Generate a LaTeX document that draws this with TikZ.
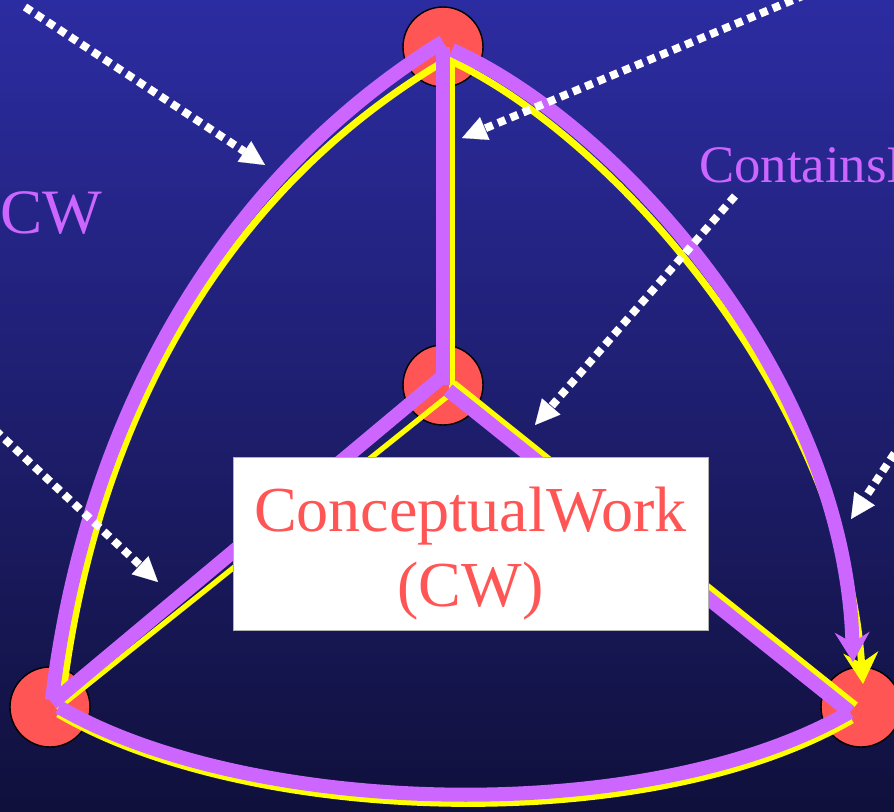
\documentclass[tikz,border=0pt]{standalone}
\usepackage{fontspec}
\setmainfont{Liberation Serif}
\usepackage{tikz}
\usetikzlibrary{arrows.meta,positioning}
\definecolor{bgTop}{RGB}{44,44,162}
\definecolor{bgBot}{RGB}{16,16,60}
\definecolor{relViolet}{HTML}{CC66FF}
\definecolor{relYellow}{HTML}{FFFF00}
\definecolor{cwRed}{HTML}{FF5555}
\tikzset{
  %% Concept dots
  cwDot/.style={circle, draw=black, line width=0.8pt, fill=cwRed,
    minimum size=1.6cm, inner sep=0pt},
  %% Concept box
  cwBox/.style={draw=gray!60, fill=white, inner sep=2pt,
    minimum width=9.5cm, minimum height=3.46cm,
    font=\fontsize{36.5}{42.7}\selectfont, align=center, text=cwRed},
  cwLbl/.style={inner sep=0pt, text=relViolet, font=\fontsize{36}{43}\selectfont},
  %% Relation strokes
  relV/.style={draw=relViolet, line width=8pt},
  relY/.style={draw=relYellow, line width=3pt},
  relVtip/.style={relV, -{Stealth[length=17pt, width=20pt, inset=6pt, line width=0.5pt]}},
  relYtip/.style={draw=relYellow, line width=4pt,
    -{Stealth[length=18pt, width=20pt, inset=6pt, line width=0.5pt]}},
  %% Pointer arrows (white dotted)
  ptr/.style={draw=white, line width=4.5pt, dash pattern=on 4.5pt off 3.2pt,
    -{Triangle[length=14pt, width=14pt, line width=0.1pt]}},
}

\begin{document}
\begin{tikzpicture}[x=0.02cm, y=-0.02cm]
\useasboundingbox (0,0) rectangle (894,812);
\begin{scope}
\clip (0,0) rectangle (894,812);
\shade[top color=bgTop, bottom color=bgBot] (0,0) rectangle (894,812);

%% Concepts
\node[cwDot] (nTop)   at (443,47)  {};
\node[cwDot] (nMid)   at (443,385) {};
\node[cwDot] (nLeft)  at (50,707)  {};
\node[cwDot] (nRight) at (861,707) {};

\coordinate (tipV) at (853,662);
\coordinate (tipY) at (863,684);

%% Yellow relations
\draw[relY] ([shift={(9,8)}]nTop.center) -- ([shift={(9,5)}]nMid.center);
\draw[relY] ([shift={(5,11)}]nMid.center) -- ([shift={(7,2)}]nLeft.center);
\draw[relY, line width=3.5pt] ([shift={(11,-2)}]nMid.center) -- ([shift={(-5,-2)}]nRight.center);
\draw[relY, line width=4pt] ([shift={(5,12)}]nTop.center)
  .. controls (225,189) and (95,421) .. ([shift={(12,-6)}]nLeft.center);
\draw[relY, line width=4pt] ([shift={(8,7)}]nLeft.center)
  .. controls (252,827) and (652,837) .. ([shift={(-9,13)}]nRight.center);
\draw[relYtip] ([shift={(6,13)}]nTop.center)
  .. controls (615,137) and (843,400) .. (tipY);

%% Violet relations
\draw[relV] (nTop.center) -- (nMid.center);
\draw[relV] ([yshift=5]nMid.center) -- ([shift={(2,-4)}]nLeft.center);
\draw[relV] ([shift={(5,5)}]nMid.center) -- ([shift={(-11,5)}]nRight.center);
\draw[relV] ([yshift=3]nTop.center)
  .. controls (220,180) and (85,420) .. ([shift={(2,-7)}]nLeft.center);
\draw[relV] ([xshift=5]nLeft.center)
  .. controls (250,818) and (650,828) .. ([shift={(-11,5)}]nRight.center);
\draw[relVtip] ([shift={(9,3)}]nTop.center)
  .. controls (620,125) and (845,380) .. (tipV);

%% Box
\node[cwBox] (nCW) at (470.5,543.5) {\rule{0pt}{37pt}ConceptualWork\\(CW)};

%% Pointers
\coordinate (pA1) at (25,7);    \coordinate (pA2) at (265,165);
\coordinate (pB1) at (805,-5);  \coordinate (pB2) at (462,138);
\coordinate (pC1) at (735,196); \coordinate (pC2) at (535,425);
\coordinate (pD1) at (-5,430);  \coordinate (pD2) at (158,582);
\coordinate (pE1) at (902,442); \coordinate (pE2) at (851,519);
\draw[ptr] (pA1) -- (pA2);
\draw[ptr] (pB1) -- (pB2);
\draw[ptr] (pC1) -- (pC2);
\draw[ptr] (pD1) -- (pD2);
\draw[ptr] (pE1) -- (pE2);

%% Labels
\node[cwLbl, anchor=base west] (lblCW) at (0,233) {CW};
\node[cwLbl, anchor=base west, font=\fontsize{30}{36}\selectfont] (lblContains) at (699,182) {ContainsI};
\end{scope}
\end{tikzpicture}
\end{document}
